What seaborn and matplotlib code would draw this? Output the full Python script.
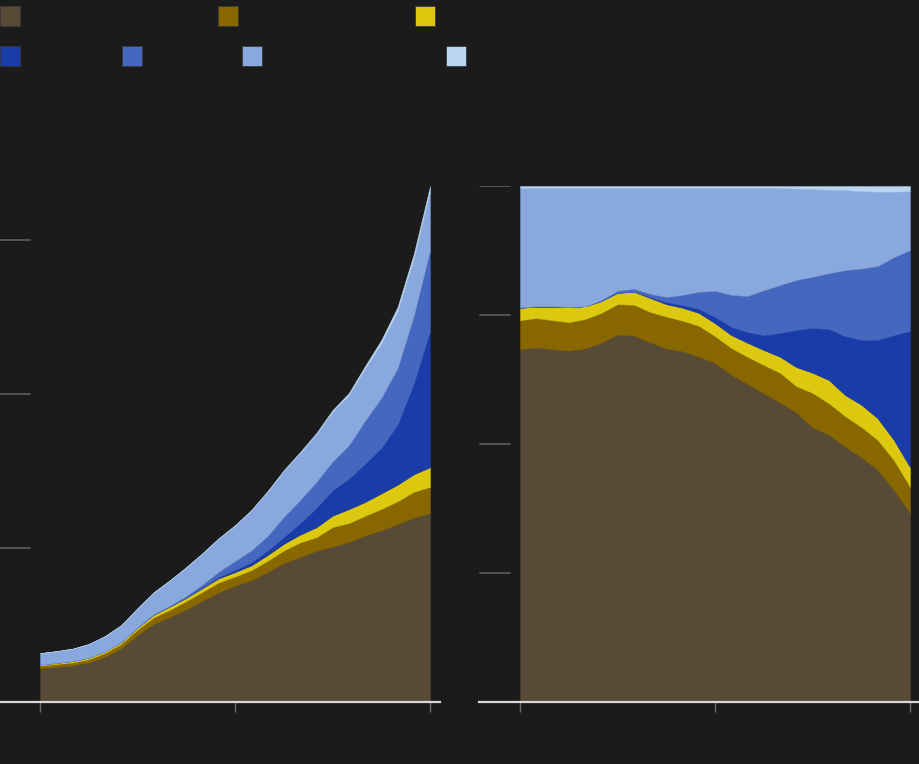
import numpy as np
import matplotlib
matplotlib.use("Agg")
import matplotlib.pyplot as plt
from matplotlib.patches import Rectangle
import seaborn as sns

# ---------------- data ----------------
years = list(range(2000, 2025))
xtick_years = [2000, 2012, 2024]

# total (left panel, arbitrary units; gridlines at 100, 200, 300)
total = [31.8, 33.1, 34.7, 37.7, 42.9, 50.0, 61.0, 71.4, 79.2, 87.7, 96.8, 106.5,
         114.9, 124.7, 137.0, 150.6, 162.3, 174.7, 189.6, 200.6, 218.2, 235.1,
         256.5, 291.0, 335.0]

# shares in percent (right panel), bottom to top
share_brown = [68.4, 68.7, 68.4, 68.1, 68.5, 69.6, 71.2, 71.0, 69.7, 68.5, 68.0, 66.9,
               65.7, 63.4, 61.6, 59.8, 58.0, 56.1, 53.2, 51.8, 49.5, 47.4, 45.0, 41.1, 36.6]
share_gold = [5.6, 5.7, 5.6, 5.5, 5.7, 5.8, 5.9, 6.0, 5.9, 6.2, 5.9, 6.0,
              5.2, 5.2, 5.3, 5.5, 5.8, 5.1, 6.7, 6.1, 5.9, 5.9, 5.8, 5.8, 5.1]
share_yellow = [2.4, 2.2, 2.6, 2.9, 2.5, 2.3, 2.2, 2.5, 2.7, 2.4, 2.5, 2.5,
                2.5, 2.5, 2.7, 2.9, 3.1, 3.7, 3.9, 4.5, 4.1, 4.3, 4.2, 3.9, 3.8]
share_darkblue = [0.0, 0.0, 0.0, 0.0, 0.0, 0.0, 0.0, 0.0, 0.2, 0.4, 0.5, 0.8,
                  1.2, 1.6, 2.1, 2.9, 4.6, 7.2, 8.7, 9.9, 11.4, 12.6, 15.2, 20.3, 26.4]
share_midblue = [0.1, 0.1, 0.1, 0.1, 0.0, 0.2, 0.4, 0.6, 0.6, 1.0, 2.0, 3.3,
                 5.1, 6.2, 7.0, 8.7, 9.3, 9.7, 9.9, 10.8, 12.8, 13.8, 14.3, 15.1, 15.7]
share_lightblue = [23.1, 22.9, 22.9, 23.0, 22.9, 21.7, 19.9, 19.5, 20.5, 21.1, 20.7, 20.1,
                   19.9, 20.7, 20.9, 19.8, 18.8, 17.7, 17.0, 16.2, 15.5, 15.0, 14.4, 12.7, 11.4]
share_paleblue = [0.4, 0.4, 0.4, 0.4, 0.4, 0.4, 0.4, 0.4, 0.4, 0.4, 0.4, 0.4,
                  0.4, 0.4, 0.4, 0.4, 0.4, 0.5, 0.6, 0.7, 0.8, 1.0, 1.1, 1.1, 1.0]

left_yticks = [100, 200, 300]
right_yticks = [25, 50, 75, 100]

# ---------------- style ----------------
BG = "#1b1b1b"
colors = ["#574a37", "#886600", "#dcc80f", "#1a3ca8", "#4667c0", "#88a8de", "#b9d5f2"]

sns.set_theme(style="dark")
plt.rcParams["font.family"] = ["DejaVu Sans"]
plt.rcParams["figure.facecolor"] = BG
plt.rcParams["axes.facecolor"] = BG

shares = np.array([share_brown, share_gold, share_yellow, share_darkblue,
                   share_midblue, share_lightblue, share_paleblue], dtype=float)
shares_norm = shares / shares.sum(axis=0) * 100.0
tot = np.array(total)
absolute = shares_norm / 100.0 * tot
x = np.array(years)

W, H = 920, 764
fig = plt.figure(figsize=(W / 100, H / 100), dpi=100)

ppu = 16.25  # pixels per year
axL = fig.add_axes([0 / W, (H - 702) / H, 440 / W, 516 / H])
axR = fig.add_axes([479 / W, (H - 702) / H, 441 / W, 516 / H])

for ax, data, ylim, yt, offset_px, right_edge in [
    (axL, absolute, 516 / 1.54, left_yticks, 40, 440),
    (axR, shares_norm, 100.0, right_yticks, 41, 441),
]:
    ax.set_facecolor(BG)
    polys = ax.stackplot(x, data, colors=colors, linewidth=0)
    for p, c in zip(polys, colors):
        p.set_edgecolor(c)
        p.set_linewidth(0.3)
    ax.set_xlim(x[0] - offset_px / ppu, x[-1] + (right_edge - offset_px - 390) / ppu)
    ax.set_ylim(0, ylim)
    ax.set_yticks([])
    ax.set_xticks(xtick_years)
    ax.set_xticklabels([])
    ax.tick_params(axis="x", direction="out", length=7, width=1.0, color="#6a6a6a",
                   bottom=True, pad=2)
    ax.grid(False)
    for s in ["top", "left", "right"]:
        ax.spines[s].set_visible(False)
    ax.spines["bottom"].set_color("#d8d8d8")
    ax.spines["bottom"].set_linewidth(1.6)
    ax.spines["bottom"].set_zorder(5)

for v in left_yticks:
    axL.axhline(v, xmin=0, xmax=30 / 440, color="#5a5a5a", lw=1.3)
for v in right_yticks:
    axR.axhline(v, xmin=1 / 441, xmax=31 / 441, color="#5a5a5a", lw=1.3)

# legend swatches (labels not visible in the reference)
swatches = [(0, 6), (218, 6), (415, 6), (0, 46), (122, 46), (242, 46), (446, 46)]
for (px, py), c in zip(swatches, colors):
    fig.add_artist(Rectangle((px / W, 1 - (py + 20) / H), 20 / W, 20 / H,
                             transform=fig.transFigure, facecolor=c,
                             edgecolor="#3a3a3a", linewidth=0.6))

fig.savefig("out.png", dpi=100, facecolor=BG)
